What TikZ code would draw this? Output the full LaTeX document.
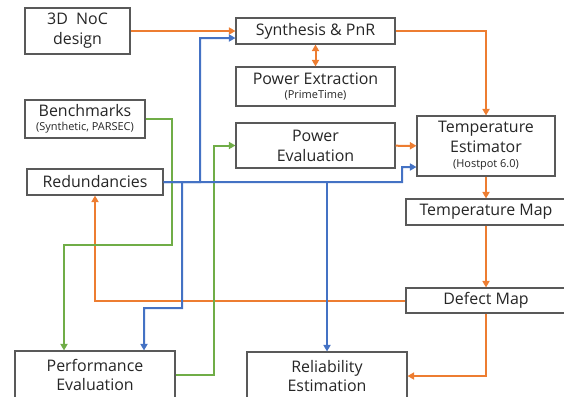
\documentclass[tikz,border=0pt]{standalone}
\usepackage{fontspec}
\setmainfont{Open Sans}
\usepackage{tikz}
\usetikzlibrary{arrows.meta}
\definecolor{ora}{HTML}{ED7D31}
\definecolor{blu}{HTML}{4472C4}
\definecolor{gre}{HTML}{70AD47}
\tikzstyle{block} = [rectangle,draw=black!65,fill=white,line width=1.1bp,
  align=center,inner sep=1pt,text=black!85,
  font=\fontsize{16}{20}\selectfont]
\tikzstyle{flow} = [line width=2bp,->,>={Triangle[length=6.5bp,width=7bp]}]
\newcommand{\smalltag}[1]{{\fontsize{11}{12}\selectfont #1}}
\newcommand{\edge}[3][]{ %
  % straight connector between two nodes
  \path (#2) edge [flow, #1] (#3) ;%
}

\begin{document}
\begin{tikzpicture}[x=1bp,y=-1bp]
  \useasboundingbox (0,0) rectangle (564,396);
  \clip (0,0) rectangle (564,396);
  % boxes
  \node[block, minimum width=105bp, minimum height=46bp] (noc) at (77.5,31) {3D\ \ NoC\\design};
  \node[block, minimum width=159bp, minimum height=26bp] (syn) at (315.5,31) {Synthesis \& PnR};
  \node[block, minimum width=159bp, minimum height=39bp] (pext) at (315.5,86.5) {Power Extraction\\[-6pt]\smalltag{(PrimeTime)}};
  \node[block, minimum width=159bp, minimum height=45bp] (peval) at (315.5,145.5) {Power\\Evaluation};
  \node[block, minimum width=120bp, minimum height=38bp] (bench) at (85,119) {Benchmarks\\[-6pt]\smalltag{(Synthetic, PARSEC)}};
  \node[block, minimum width=136bp, minimum height=26bp] (red) at (95,182) {Redundancies};
  \node[block, minimum width=138bp, minimum height=60bp] (test) at (486,146) {Temperature\\Estimator\\[-5pt]\smalltag{(Hostpot 6.0)}};
  \node[block, minimum width=160bp, minimum height=26bp] (tmap) at (486,212) {Temperature Map};
  \node[block, minimum width=160bp, minimum height=25bp] (dmap) at (486,300.5) {Defect Map};
  \node[block, minimum width=160bp, minimum height=48bp] (perf) at (95,375) {Performance\\Evaluation};
  \node[block, minimum width=160bp, minimum height=48bp] (rel) at (327,376) {Reliability\\Estimation};

  % orange flow
  \edge[ora]{noc}{syn};
  \edge[ora, <->]{syn}{pext};
  \edge[ora]{peval}{test};
  \edge[ora]{test}{tmap};
  \edge[ora]{tmap}{dmap};
  \draw[flow, ora] (syn.east) -| (test.north);
  \draw[flow, ora] (dmap.south) |- (rel.east);
  \draw[flow, ora] (dmap.west) -| (red.south);

  % green flow
  \draw[flow, gre] (bench.east) -| (172,245) -| ([xshift=-31bp]perf.north);
  \draw[flow, gre] (perf.east) -- ++(38,0) |- (peval.west);

  % blue flow
  \draw[flow, blu] (red.east) -| (200,38) -- ([yshift=-7bp]syn.west);
  \draw[flow, blu] (red.east) -| (402,167) -- ([yshift=-21bp]test.west);
  \draw[flow, blu] (327,182) -- (rel.north);
  \draw[flow, blu] (182,182) |- (144,308) -- ([xshift=49bp]perf.north);
\end{tikzpicture}
\end{document}
